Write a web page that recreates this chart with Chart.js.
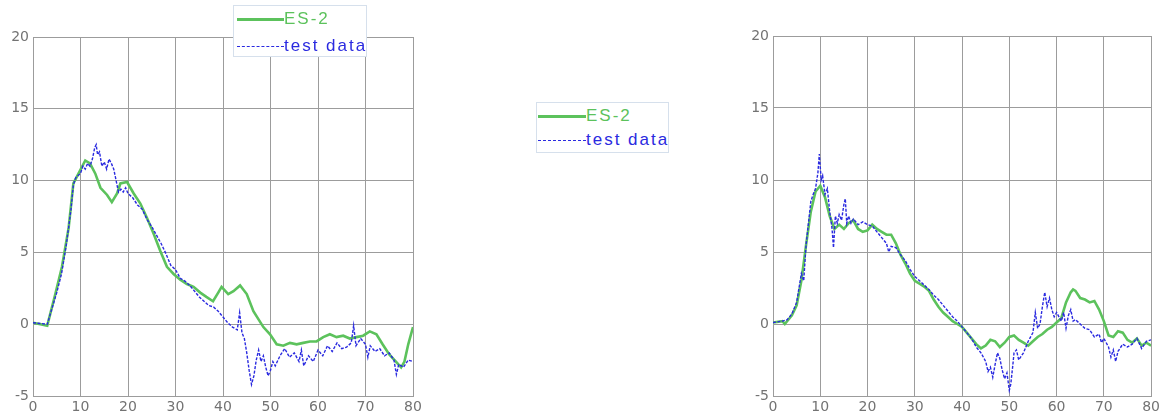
<!DOCTYPE html>
<html>
<head>
<meta charset="utf-8">
<script src="https://cdn.jsdelivr.net/npm/chart.js@4/dist/chart.umd.min.js"></script>
<style>
  html, body { margin: 0; padding: 0; background: #ffffff; }
  body { width: 1163px; height: 419px; position: relative; overflow: hidden; }
  canvas { position: absolute; }
  .legend { position: absolute; background: #ffffff; border: 1px solid #d6e0ec; box-sizing: border-box; }
  .legend .sample { position: absolute; height: 0; }
  .legend .label { position: absolute; font-family: "Liberation Sans", Arial, sans-serif; font-size: 17px; letter-spacing: 2px; line-height: 20px; white-space: nowrap; }
</style>
</head>
<body>
<canvas id="left" width="425" height="419" style="left:0;top:0;"></canvas>
<canvas id="right" width="423" height="419" style="left:740px;top:0;"></canvas>

<div class="legend" id="legendLeft" style="left:233px;top:5px;width:134px;height:52px;">
  <div class="sample" style="left:3px;top:12px;width:47px;border-top:3px solid #5cc25c;"></div>
  <div class="label" style="left:50px;top:3px;color:#5cc25c;">ES-2</div>
  <div class="sample" style="left:3px;top:40px;width:47px;border-top:1px dashed #2a2ae0;"></div>
  <div class="label" style="left:50px;top:30px;color:#2a2ae0;">test data</div>
</div>
<div class="legend" id="legendMid" style="left:536px;top:102px;width:133px;height:51px;">
  <div class="sample" style="left:1px;top:12px;width:48px;border-top:3px solid #5cc25c;"></div>
  <div class="label" style="left:49px;top:3px;color:#5cc25c;">ES-2</div>
  <div class="sample" style="left:1px;top:37px;width:48px;border-top:1px dashed #2a2ae0;"></div>
  <div class="label" style="left:49px;top:27px;color:#2a2ae0;">test data</div>
</div>

<script>
// ---- data ----
const seriesNames = ["ES-2", "test data"];
const xTicks = [0, 10, 20, 30, 40, 50, 60, 70, 80];
const yTicks = [-5, 0, 5, 10, 15, 20];

const leftEsX = [0,3,4.7,6.1,7.5,8.5,9.9,11,12,13.1,14.2,15.6,16.6,17.7,18.4,19.8,21.2,22.6,24,25.4,26.8,28.2,29.6,31,32.4,33.8,35.2,36.5,37.9,39,39.7,41.1,42.2,43.6,45,46.4,48.5,49.9,51.3,52.7,54.1,55.5,56.9,58.3,59.7,61.1,62.5,63.9,65.3,66.7,68.1,69.5,70.9,72.3,73.6,75,76.4,77.5,78.2,79,80];
const leftEsY = [0.1,-0.1,2.1,4,6.7,9.8,10.7,11.4,11.2,10.5,9.5,9.0,8.5,9.1,9.8,9.9,9.1,8.4,7.4,6.3,5.1,4.0,3.5,3.1,2.8,2.6,2.2,1.9,1.6,2.2,2.6,2.1,2.3,2.7,2.1,0.9,-0.2,-0.7,-1.4,-1.5,-1.3,-1.4,-1.3,-1.2,-1.2,-0.9,-0.7,-0.9,-0.8,-1.0,-0.9,-0.8,-0.5,-0.7,-1.4,-2.1,-2.6,-3.0,-2.6,-1.4,-0.2];

const leftTestX = [0,3,5,6,7,8,8.5,9,10,10.5,11,11.5,12,12.5,13,13.3,13.6,14,14.5,15,15.5,16,16.5,17,17.5,18,18.5,19,19.5,20,21,22,23,24,25,26,27,28,29,30,31,32,33,34,35,36,37,38,39,40,41,42,43,43.5,44,44.5,45,45.5,46,46.5,47,47.5,48,48.5,49,49.5,50,50.5,51,52,53,54,55,56,56.5,57,58,59,60,61,62,63,64,65,66,67,67.5,68,69,70,70.5,71,72,73,74,75,76,76.5,77,78,79,80];
const leftTestY = [0.1,0,2.2,3.5,5.5,8,9.7,10.2,10.5,11,10.8,11.2,11.0,11.5,12.3,12.5,11.8,12.0,11.0,11.3,10.8,11.5,11.2,10.8,10.0,9.2,9.4,9.2,9.5,9.1,8.8,8.3,8.0,7.3,6.8,6.2,5.6,4.9,4.1,3.8,3.2,3.0,2.7,2.3,1.9,1.6,1.3,1.2,0.9,0.5,0.1,-0.2,-0.4,0.8,-0.6,-1,-2.0,-3.2,-4.2,-3.6,-2.5,-1.8,-2.6,-2.2,-3.0,-3.6,-3.2,-2.6,-2.9,-2.2,-1.7,-2.3,-2.0,-2.6,-1.8,-2.9,-2.2,-2.6,-1.8,-2.2,-1.5,-1.9,-1.3,-1.7,-1.6,-1.3,-0.1,-1.5,-1.0,-1.4,-2.3,-1.5,-1.9,-1.7,-2.2,-2.0,-2.5,-3.5,-2.8,-3.0,-2.5,-2.6];

const rightEsX = [0,2,2.5,4,5,6,7,8,9,10,11,12,13,14,15,16,17,18,19,20,21,22,23,24,25,26,27,28,29,30,31,32,33,34,35,36,37,38,39,40,41,42,43,44,45,46,47,48,49,50,51,52,53,54,55,56,57,58,59,60,61,62,63,63.5,64,65,66,67,68,69,70,71,72,73,74,75,76,77,78,79,80];
const rightEsY = [0.1,0.2,0,0.6,1.3,3,5.5,7.8,9.2,9.6,8.8,7.5,6.6,6.9,6.6,7.0,7.2,6.6,6.4,6.5,6.9,6.6,6.4,6.2,6.2,5.6,4.8,4.2,3.5,3.0,2.8,2.6,2.3,1.7,1.2,0.8,0.5,0.2,0.0,-0.2,-0.6,-1.0,-1.4,-1.7,-1.5,-1.1,-1.2,-1.6,-1.3,-0.9,-0.8,-1.1,-1.3,-1.5,-1.2,-0.9,-0.7,-0.4,-0.2,0.1,0.4,1.5,2.2,2.4,2.3,1.8,1.7,1.5,1.6,1.0,0.2,-0.8,-0.9,-0.5,-0.6,-1.1,-1.3,-1.0,-1.5,-1.3,-1.5];

const rightTestX = [0,2,3,4,5,6,6.5,7,8,8.5,9,9.5,9.8,10.2,10.5,11,11.5,12,12.5,12.8,13.2,13.6,14,14.5,15,15.3,15.6,16,16.5,17,18,19,20,21,22,23,24,24.5,25,26,27,28,29,30,31,32,33,34,35,36,37,38,39,40,41,42,43,44,45,45.5,46,46.5,47,47.5,48,48.5,49,49.5,50,50.3,50.7,51,51.5,52,53,54,55,55.5,56,56.5,57,57.5,58,58.5,59,59.5,60,61,61.5,62,62.5,63,63.5,64,65,66,67,68,69,69.5,70,71,71.5,72,72.5,73,74,75,76,77,78,79,80];
const rightTestY = [0.1,0.2,0.3,0.7,1.5,3.5,3,5.5,8.5,9,9.4,10.5,11.8,10.0,10.3,9.0,9.4,7.8,6.6,5.3,7.5,7.0,7.6,7.2,8.3,8.7,7.0,7.5,7.0,7.3,6.9,7.1,6.9,6.8,6.4,6.0,5.6,5.0,5.4,5.3,4.8,4.4,3.8,3.3,3.0,2.7,2.4,2.0,1.7,1.3,0.9,0.5,0.2,-0.2,-0.6,-1.0,-1.6,-2.0,-2.6,-3.3,-3.0,-3.7,-2.8,-2.0,-2.4,-3.2,-3.8,-3.4,-4.6,-4.2,-3.0,-2.0,-1.8,-2.5,-2.0,-1.2,-0.6,0.8,-0.3,0.0,1.2,2.2,1.2,1.8,1.0,0.5,0.8,0.2,0.8,-0.3,0.6,1.0,0.2,0.3,0.0,-0.3,-0.4,-0.9,-0.7,-1.3,-1.0,-1.6,-2.3,-1.8,-2.6,-1.9,-1.4,-1.6,-1.4,-1.0,-1.7,-1.2,-1.1];

// ---- build ----
function zip(xs, ys) {
  const n = Math.min(xs.length, ys.length);
  const out = [];
  for (let i = 0; i < n; i++) out.push({ x: xs[i], y: ys[i] });
  return out;
}

const GREEN = '#5cc25c';
const BLUE = '#2a2ae0';
const GRID = '#9c9c9c';
const TICK = '#737373';

function makeChart(id, esX, esY, testX, testY, pad) {
  return new Chart(document.getElementById(id), {
    type: 'line',
    data: {
      datasets: [
        { label: seriesNames[0], data: zip(esX, esY), borderColor: GREEN, borderWidth: 2.6, pointRadius: 0, tension: 0, fill: false, order: 2 },
        { label: seriesNames[1], data: zip(testX, testY), borderColor: BLUE, borderWidth: 1.4, borderDash: [3, 1.5], pointRadius: 0, tension: 0, fill: false, order: 1 }
      ]
    },
    options: {
      responsive: false,
      animation: false,
      devicePixelRatio: 1,
      layout: { padding: pad },
      plugins: { legend: { display: false }, tooltip: { enabled: false } },
      scales: {
        x: {
          type: 'linear', min: xTicks[0], max: xTicks[xTicks.length - 1],
          afterBuildTicks: (s) => { s.ticks = xTicks.map(v => ({ value: v })); },
          afterFit: (s) => { s.height = 23; },
          grid: { color: GRID, lineWidth: 1, drawTicks: false },
          border: { color: GRID, width: 1 },
          ticks: { color: TICK, padding: 3, maxRotation: 0, autoSkip: false, font: { family: 'DejaVu Sans', size: 14 } }
        },
        y: {
          type: 'linear', min: yTicks[0], max: yTicks[yTicks.length - 1],
          afterBuildTicks: (s) => { s.ticks = yTicks.map(v => ({ value: v })); },
          afterFit: (s) => { s.width = 33; },
          grid: { color: GRID, lineWidth: 1, drawTicks: false },
          border: { color: GRID, width: 1 },
          ticks: { color: TICK, padding: 4, autoSkip: false, font: { family: 'DejaVu Sans', size: 14 } }
        }
      }
    }
  });
}

makeChart('left', leftEsX, leftEsY, leftTestX, leftTestY, { top: 37, right: 12, left: 0, bottom: 0 });
makeChart('right', rightEsX, rightEsY, rightTestX, rightTestY, { top: 36, right: 11, left: 0, bottom: 0 });
</script>
</body>
</html>
